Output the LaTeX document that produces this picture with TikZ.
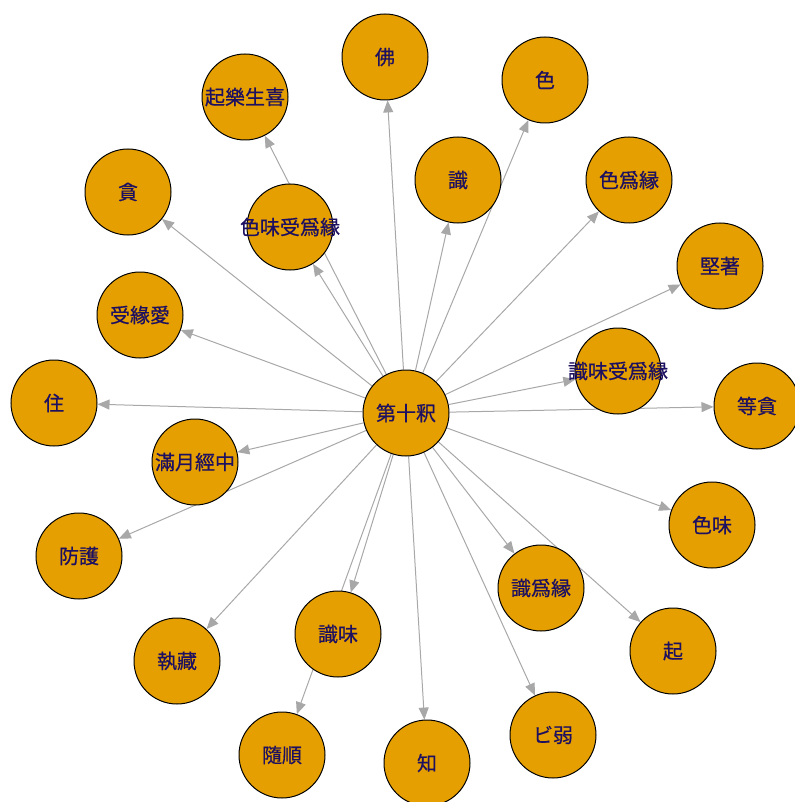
\documentclass[tikz,border=0pt]{standalone}
\usepackage{fontspec}
\newfontfamily\cjk[FakeBold=0.6]{Noto Sans CJK JP}
\usetikzlibrary{arrows.meta,backgrounds}
\definecolor{vorange}{RGB}{230,159,0}
\definecolor{vlabel}{RGB}{30,16,96}
\definecolor{vedge}{RGB}{168,168,168}
\newcommand{\vlab}[1]{\makebox[0pt][c]{#1}}

\begin{document}
\begin{tikzpicture}[x=0.5pt,y=-0.5pt,
  vtx/.style={circle, draw=black, line width=0.5pt, fill=vorange, inner sep=0pt,
    minimum size=43pt, font=\cjk\fontsize{10}{10}\selectfont, text=vlabel},
  edge/.style={draw=vedge, line width=0.5pt, -{Triangle[length=6pt,width=5pt]}}]
\useasboundingbox (0,0) rectangle (795,802);
% center
\node[vtx] (dishi) at (406,413) {\vlab{第十釈}};
% upper half
\node[vtx] (fo) at (385,57) {\vlab{佛}};
\node[vtx] (se) at (545,80) {\vlab{色}};
\node[vtx] (shi) at (458,180) {\vlab{識}};
\node[vtx] (qile) at (245,97) {\vlab{起樂生喜}};
\node[vtx] (seweishou) at (290,227) {\vlab{色味受爲縁}};
\node[vtx] (seweiyuan) at (629,180) {\vlab{色爲縁}};
\node[vtx] (jianzhu) at (720,266) {\vlab{堅著}};
\node[vtx] (shiweishou) at (618,371) {\vlab{識味受爲縁}};
\node[vtx] (dengtan) at (757,406) {\vlab{等貪}};
\node[vtx] (tan) at (128,192) {\vlab{貪}};
\node[vtx] (shouyuanai) at (140,315) {\vlab{受緣愛}};
\node[vtx] (zhu) at (54,403) {\vlab{住}};
% lower half
\node[vtx] (manyue) at (195,462) {\vlab{滿月經中}};
\node[vtx] (fanghu) at (79,556) {\vlab{防護}};
\node[vtx] (zhicang) at (177,661) {\vlab{執藏}};
\node[vtx] (shiwei) at (338,634) {\vlab{識味}};
\node[vtx] (suishun) at (282,755) {\vlab{隨順}};
\node[vtx] (zhi) at (427,763) {\vlab{知}};
\node[vtx] (shiweiyuan) at (541,588) {\vlab{識爲縁}};
\node[vtx] (biruo) at (553,735) {\vlab{ビ弱}};
\node[vtx] (sewei) at (712,525) {\vlab{色味}};
\node[vtx] (qi) at (673,651) {\vlab{起}};
% edges
\begin{scope}[on background layer]
\foreach \t in {fo,se,shi,qile,seweishou,seweiyuan,jianzhu,shiweishou,dengtan,
  tan,shouyuanai,zhu,manyue,fanghu,zhicang,shiwei,suishun,zhi,shiweiyuan,
  biruo,sewei,qi}
  \draw[edge] (dishi) -- (\t);
\end{scope}
\end{tikzpicture}
\end{document}
